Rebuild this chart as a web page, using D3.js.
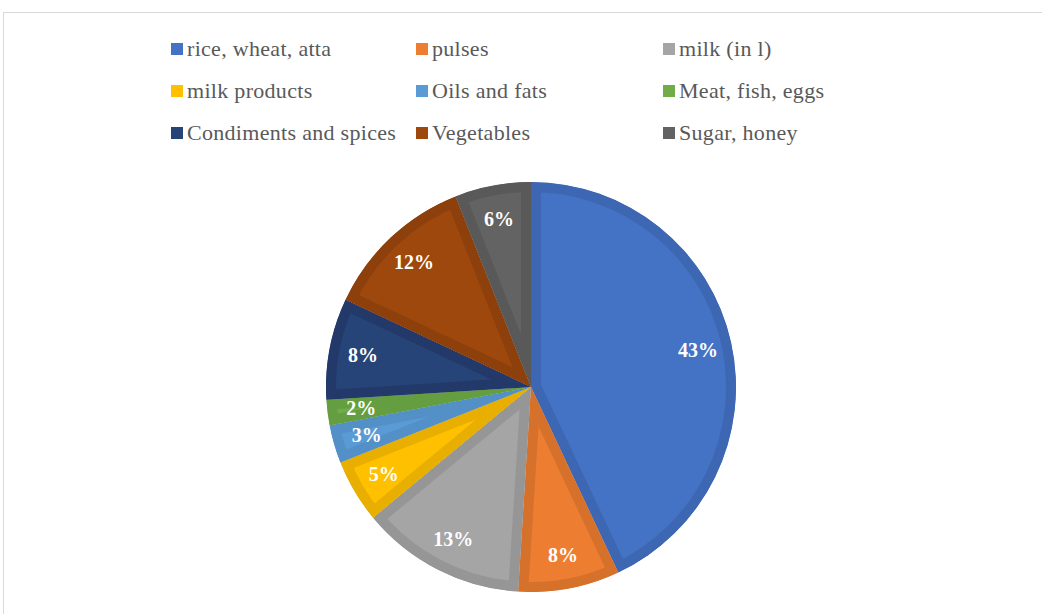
<!DOCTYPE html>
<html>
<head>
<meta charset="utf-8">
<script src="https://cdn.jsdelivr.net/npm/d3@7"></script>
<style>
  html, body { margin: 0; padding: 0; background: #fff; }
  svg { display: block; }
</style>
</head>
<body>
<svg id="chart" width="1042" height="614"></svg>
<script>
const categories = ["rice, wheat, atta", "pulses", "milk (in l)", "milk products", "Oils and fats", "Meat, fish, eggs", "Condiments and spices", "Vegetables", "Sugar, honey"];
const values = [43, 8, 13, 5, 3, 2, 8, 12, 6];
const colors = ["#4472C4", "#ED7D31", "#A5A5A5", "#FFC000", "#5B9BD5", "#70AD47", "#264478", "#9E480E", "#636363"];
const borderColors = ["#3E67B3", "#D6712C", "#969696", "#E8AE00", "#5290C7", "#659E40", "#22396A", "#8D400C", "#595959"];

const svg = d3.select("#chart");
const W = 1042, H = 614;

// chart area border
svg.append("rect")
  .attr("x", 3.5).attr("y", 12.5)
  .attr("width", W + 10).attr("height", H + 10)
  .attr("fill", "#fff").attr("stroke", "#d9d9d9").attr("stroke-width", 1);

// legend
const legendCols = [171, 416, 663];
const legendRows = [49, 91, 133];
const legend = svg.append("g");
categories.forEach((c, i) => {
  const col = i % 3, row = Math.floor(i / 3);
  const g = legend.append("g").attr("transform", `translate(${legendCols[col]},${legendRows[row]})`);
  g.append("rect").attr("x", 0).attr("y", -6).attr("width", 12).attr("height", 12).attr("fill", colors[i]);
  g.append("text").attr("x", 16).attr("y", 0).attr("dy", "0.33em")
    .attr("font-family", "'Liberation Serif', 'DejaVu Serif', serif")
    .attr("font-size", 22).attr("letter-spacing", 0.3).attr("fill", "#595959").text(c);
});

// pie
const cx = 531, cy = 387, r = 205;
const pie = d3.pie().sort(null).value(d => d)(values);
const arc = d3.arc().innerRadius(0).outerRadius(r);
const labelArc = d3.arc().innerRadius(171).outerRadius(171);

const defs = svg.append("defs");
const g = svg.append("g").attr("transform", `translate(${cx},${cy})`);

pie.forEach((p, i) => {
  const id = "clip" + i;
  defs.append("clipPath").attr("id", id).append("path").attr("d", arc(p));
  g.append("path")
    .attr("d", arc(p))
    .attr("fill", colors[i])
    .attr("stroke", borderColors[i])
    .attr("stroke-width", 20)
    .attr("stroke-linejoin", "miter")
    .attr("clip-path", `url(#${id})`);
});

g.selectAll("text.lbl")
  .data(pie)
  .enter().append("text")
  .attr("class", "lbl")
  .attr("transform", d => `translate(${labelArc.centroid(d)})`)
  .attr("text-anchor", "middle")
  .attr("dy", "0.35em")
  .attr("font-family", "'Liberation Serif', 'DejaVu Serif', serif")
  .attr("font-weight", "bold")
  .attr("font-size", 20)
  .attr("fill", "#fff")
  .text(d => d.value + "%");
</script>
</body>
</html>
